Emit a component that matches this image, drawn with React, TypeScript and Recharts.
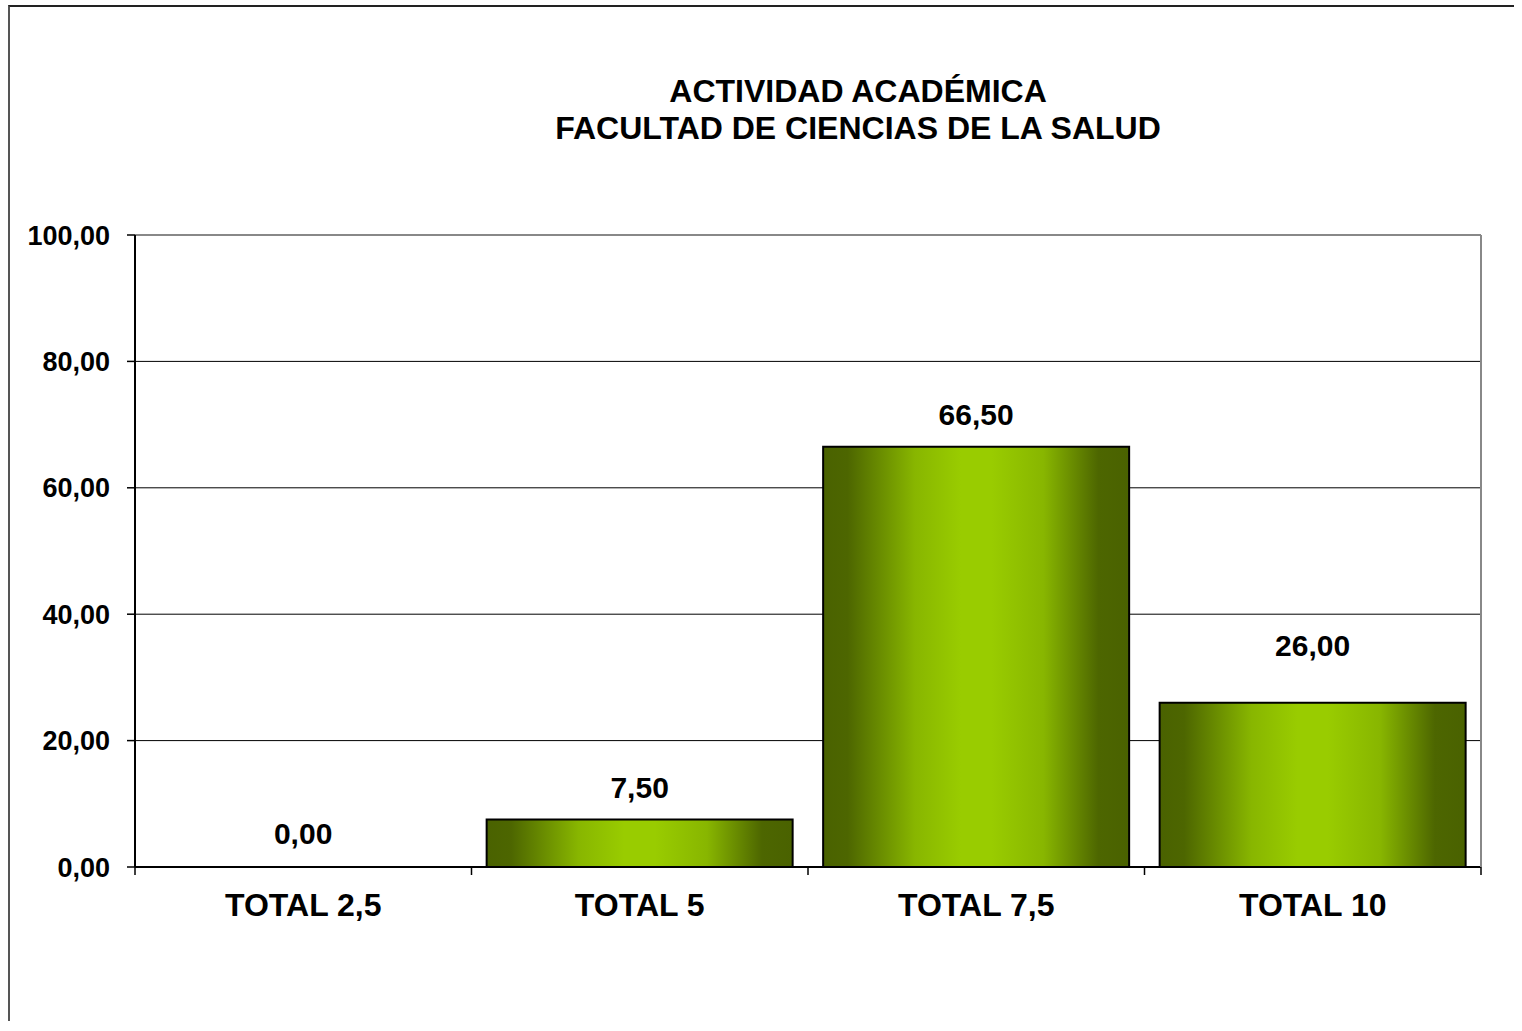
import React from 'react';
import { BarChart, Bar, XAxis, YAxis, CartesianGrid, LabelList, ReferenceLine, Cell } from 'recharts';

const categories = ['TOTAL 2,5', 'TOTAL 5', 'TOTAL 7,5', 'TOTAL 10'];
const values = [0, 7.5, 66.5, 26];
const yTicks = [0, 20, 40, 60, 80, 100];
const titleLines = ['ACTIVIDAD ACADÉMICA', 'FACULTAD DE CIENCIAS DE LA SALUD'];

const data = categories.map((name, i) => ({ name, value: values[i] }));

const FONT = '"Liberation Sans", Arial, sans-serif';
const fmt = (v: number) => v.toFixed(2).replace('.', ',');

const X_TICK_SIZE = 8;
const X_TICK_MARGIN = 18;

function CategoryTick(props: any) {
  const { x, y, payload, index } = props;
  const half = payload.offset || 0;
  const axisY = y - X_TICK_SIZE - X_TICK_MARGIN;
  return (
    <g>
      {index === 0 && (
        <line x1={x - half} x2={x - half} y1={axisY} y2={axisY + X_TICK_SIZE} stroke="#000" strokeWidth={1.5} />
      )}
      <line x1={x + half} x2={x + half} y1={axisY} y2={axisY + X_TICK_SIZE} stroke="#000" strokeWidth={1.5} />
      <text x={x} y={y} dy="0.71em" textAnchor="middle" fontFamily={FONT} fontWeight="bold" fontSize={32} fill="#000">
        {payload.value}
      </text>
    </g>
  );
}

function ValueLabel(props: any) {
  const { x, y, width, value } = props;
  // the last label sits higher in the original
  const extra = values.indexOf(value) === values.length - 1 ? 25 : 0;
  return (
    <text x={x + width / 2} y={y - 22 - extra} textAnchor="middle" fontFamily={FONT} fontWeight="bold" fontSize={30} fill="#000">
      {fmt(value)}
    </text>
  );
}

export default function App() {
  return (
    <div
      style={{
        position: 'absolute',
        left: 8,
        top: 5,
        width: 1504,
        height: 1014,
        borderTop: '2px solid #222',
        borderLeft: '2px solid #555',
        background: '#fff',
        fontFamily: FONT,
      }}
    >
      <div
        style={{
          position: 'absolute',
          left: 848,
          top: 66,
          transform: 'translateX(-50%)',
          whiteSpace: 'nowrap',
          textAlign: 'center',
          fontWeight: 'bold',
          fontSize: 32,
          lineHeight: '37px',
          color: '#000',
        }}
      >
        {titleLines.map((t) => (
          <div key={t}>{t}</div>
        ))}
      </div>
      <BarChart
        width={1504}
        height={1010}
        data={data}
        margin={{ top: 228, right: 32, bottom: 90, left: 0 }}
        barCategoryGap="4.5%"
      >
        <defs>
          <linearGradient id="barGrad" x1="0" y1="0" x2="1" y2="0">
            <stop offset="0%" stopColor="#4a6200" />
            <stop offset="8%" stopColor="#4d6600" />
            <stop offset="30%" stopColor="#88b600" />
            <stop offset="45%" stopColor="#99cc00" />
            <stop offset="55%" stopColor="#99cc00" />
            <stop offset="72%" stopColor="#88b600" />
            <stop offset="90%" stopColor="#4d6600" />
            <stop offset="100%" stopColor="#4a6200" />
          </linearGradient>
        </defs>
        <CartesianGrid vertical={false} stroke="#000" strokeWidth={1} />
        <XAxis
          dataKey="name"
          height={60}
          interval={0}
          tickSize={X_TICK_SIZE}
          tickMargin={X_TICK_MARGIN}
          tickLine={false}
          axisLine={{ stroke: '#000', strokeWidth: 2 }}
          tick={<CategoryTick />}
        />
        <YAxis
          width={125}
          domain={[0, 100]}
          ticks={yTicks}
          interval={0}
          tickFormatter={fmt}
          tickSize={8}
          tickMargin={17}
          axisLine={{ stroke: '#000', strokeWidth: 2 }}
          tickLine={{ stroke: '#000', strokeWidth: 1.5 }}
          tick={{ fill: '#000', fontFamily: FONT, fontWeight: 'bold', fontSize: 27 }}
        />
        <YAxis
          yAxisId="right"
          orientation="right"
          width={1}
          domain={[0, 100]}
          tick={false}
          tickLine={false}
          axisLine={{ stroke: '#888', strokeWidth: 2 }}
        />
        <ReferenceLine y={100} stroke="#888" strokeWidth={2} />
        <Bar
          dataKey="value"
          fill="url(#barGrad)"
          stroke="#000"
          strokeWidth={2}
          minPointSize={1}
          isAnimationActive={false}
        >
          {data.map((d) => (
            <Cell key={d.name} stroke={d.value > 0 ? '#000' : 'none'} fill={d.value > 0 ? 'url(#barGrad)' : 'none'} />
          ))}
          <LabelList dataKey="value" content={<ValueLabel />} />
        </Bar>
      </BarChart>
    </div>
  );
}
